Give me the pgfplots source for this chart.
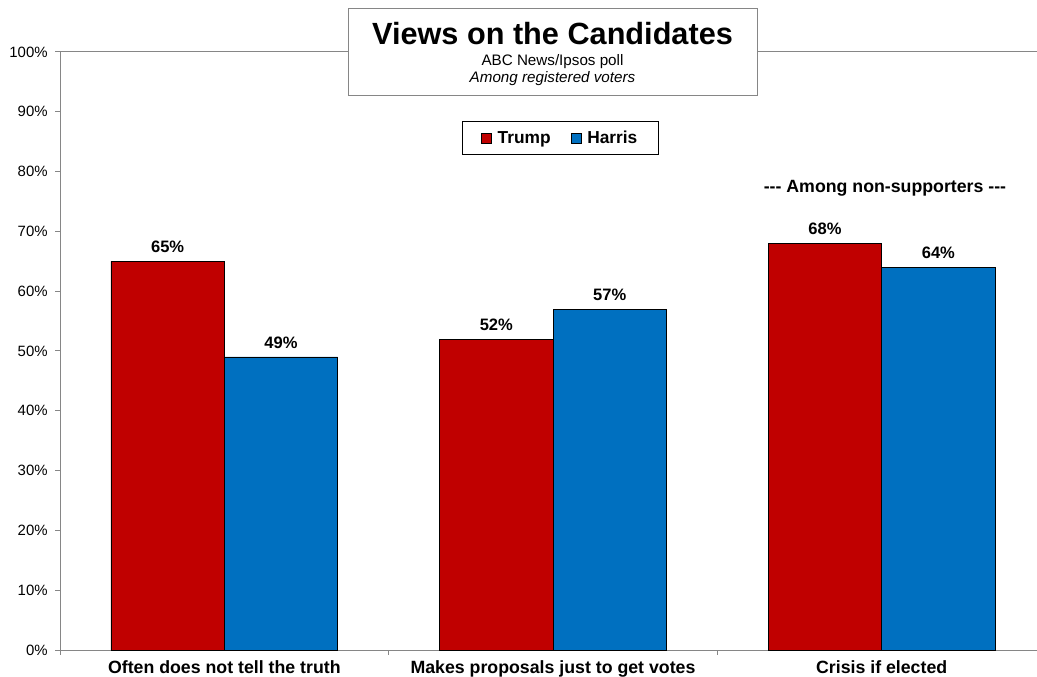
\documentclass[border=0pt]{standalone}
\usepackage{fontspec}
\setmainfont{Liberation Sans}
\usepackage{pgfplots}
\pgfplotsset{compat=1.18}

\definecolor{tred}{RGB}{192,0,0}
\definecolor{hblue}{RGB}{0,112,192}
\definecolor{linegray}{RGB}{134,134,134}

\newcommand{\fs}[1]{\fontsize{#1}{1.2\dimexpr#1\relax}\selectfont}

\begin{document}
% 1 unit = 1 pixel of the 1037x677 reference, y measured from the bottom
\begin{tikzpicture}[x=0.75pt,y=0.75pt]
\path[use as bounding box] (0,0) rectangle (1037,677);

\begin{axis}[
  at={(45pt,20.25pt)}, anchor=south west,
  scale only axis,
  width=739.5pt, height=448.5pt,
  ybar=0pt, bar width=0.345,
  xmin=0, xmax=3, ymin=0, ymax=100,
  axis line style={draw=linegray, line width=0.75pt},
  tick style={draw=linegray, line width=0.75pt},
  tick align=outside,
  major tick length=3.75pt,
  xtick={0.5,1.5,2.5},
  xticklabels={Often does not tell the truth, Makes proposals just to get votes, Crisis if elected},
  xtick pos=bottom,
  major x tick style={draw=none},
  extra x ticks={0,1,2,3},
  extra x tick labels={},
  extra x tick style={major x tick style={draw=linegray, line width=0.75pt}},
  xticklabel style={font=\fs{13.3pt}\bfseries, yshift=-0.6pt},
  ytick={0,10,...,100},
  ytick pos=left,
  yticklabel={\pgfmathprintnumber{\tick}\%},
  yticklabel style={font=\fs{11.2pt}, xshift=-2pt},
  /pgf/number format/assume math mode=true,
  nodes near coords={\pgfmathprintnumber{\pgfplotspointmeta}\%},
  every node near coord/.append style={font=\fs{12.4pt}\bfseries, yshift=2.6pt, black},
  clip=false,
  legend image code/.code={\draw[#1,draw=black,line width=0.5pt] (0pt,-3.75pt) rectangle (7.5pt,3.75pt);},
  legend columns=2,
  legend style={
    at={(0.5076,0.856)}, anchor=center,
    draw=black, line width=0.75pt,
    font=\fs{13pt}\bfseries,
    inner xsep=13.5pt, inner ysep=5pt,
    /tikz/every odd column/.append style={column sep=2.5pt},
    /tikz/every even column/.append style={column sep=13pt},
  },
]
\addplot[fill=tred, draw=black, line width=0.5pt] coordinates {(0.5,65) (1.5,52) (2.5,68)};
\addplot[fill=hblue, draw=black, line width=0.5pt] coordinates {(0.5,49) (1.5,57) (2.5,64)};
\legend{Trump, Harris}
\node[anchor=base, font=\fs{13.3pt}\bfseries] at (axis cs:2.51,76.5) {{-}{-}{-} Among non-supporters {-}{-}{-}};
\end{axis}

\draw[linegray, line width=0.75pt, fill=white] (348,581) rectangle (757,668);
\node[anchor=base, font=\fs{23pt}\bfseries] at (552.5,632) {Views on the Candidates};
\node[anchor=base, font=\fs{11.4pt}] at (552.5,611) {ABC News/Ipsos poll};
\node[anchor=base, font=\fs{11.4pt}\itshape] at (552.5,594) {Among registered voters};
\end{tikzpicture}
\end{document}
